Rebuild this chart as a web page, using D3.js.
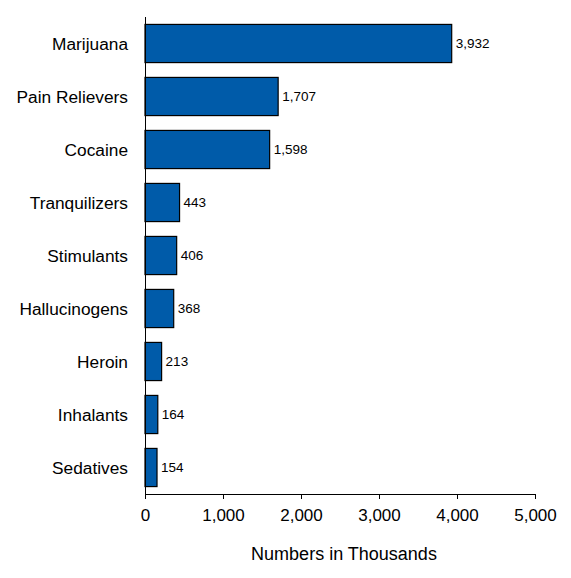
<!DOCTYPE html>
<html lang="en">
<head>
<meta charset="utf-8">
<script src="https://d3js.org/d3.v7.min.js"></script>
<style type="text/css">
body {
	margin: 0;
	background-color: #ffffff;
	font-family: "Liberation Sans", Arial, sans-serif;
}
.axis path, .axis line {
	fill: none;
	stroke: #000;
	shape-rendering: crispEdges;
}
</style>
</head>
<body>
<script type="text/javascript">

// chart data
var drugs = ["Marijuana", "Pain Relievers", "Cocaine", "Tranquilizers", "Stimulants",
             "Hallucinogens", "Heroin", "Inhalants", "Sedatives"];
var users = [3932, 1707, 1598, 443, 406, 368, 213, 164, 154];
var xTicks = [0, 1000, 2000, 3000, 4000, 5000];

var width = 571, height = 578;
var margin = {top: 17, right: 36, bottom: 84, left: 145};

var svg = d3.select("body")
  .append("svg")
  .attr("width", width)
  .attr("height", height);

var x = d3.scaleLinear()
  .domain([0, 5000])
  .range([margin.left, width - margin.right]);

var y = d3.scaleBand()
  .domain(drugs)
  .range([margin.top, height - margin.bottom])
  .paddingInner(0.28)
  .paddingOuter(0.14);

var fmt = d3.format(",");

// bars
svg.selectAll("rect.bar")
  .data(drugs)
  .enter()
  .append("rect")
  .attr("class", "bar")
  .attr("x", x(0))
  .attr("y", function(d) { return y(d); })
  .attr("width", function(d, i) { return x(users[i]) - x(0); })
  .attr("height", y.bandwidth())
  .style("fill", "#005BA9")
  .style("stroke", "#000")
  .style("stroke-width", 1.2);

// value labels
svg.selectAll("text.val")
  .data(drugs)
  .enter()
  .append("text")
  .attr("class", "val")
  .attr("x", function(d, i) { return x(users[i]) + 4; })
  .attr("y", function(d) { return y(d) + y.bandwidth() / 2; })
  .attr("dy", "0.35em")
  .style("font-size", "13.5px")
  .text(function(d, i) { return fmt(users[i]); });

// category labels
svg.selectAll("text.cat")
  .data(drugs)
  .enter()
  .append("text")
  .attr("class", "cat")
  .attr("x", margin.left - 17)
  .attr("y", function(d) { return y(d) + y.bandwidth() / 2; })
  .attr("dy", "0.35em")
  .attr("text-anchor", "end")
  .style("font-size", "17.3px")
  .text(function(d) { return d; });

// y axis line (no ticks)
var yAxis = d3.axisLeft(y).tickSize(0).tickFormat("");
svg.append("g")
  .attr("class", "axis")
  .attr("transform", "translate(" + margin.left + ",0)")
  .call(yAxis)
  .select(".domain")
  .attr("d", "M0," + margin.top + "V" + (height - margin.bottom));

// x axis
var xAxis = d3.axisBottom(x)
  .tickValues(xTicks)
  .tickSizeInner(5)
  .tickSizeOuter(0)
  .tickPadding(10)
  .tickFormat(fmt);

svg.append("g")
  .attr("class", "axis")
  .attr("transform", "translate(0," + (height - margin.bottom) + ")")
  .call(xAxis)
  .selectAll("text")
  .style("font-size", "17px")
  .style("font-family", "'Liberation Sans', Arial, sans-serif");

// axis title
svg.append("text")
  .attr("x", (x(0) + x(5000)) / 2 + 4)
  .attr("y", 560)
  .attr("text-anchor", "middle")
  .style("font-size", "18px")
  .text("Numbers in Thousands");

</script>
</body>
</html>
